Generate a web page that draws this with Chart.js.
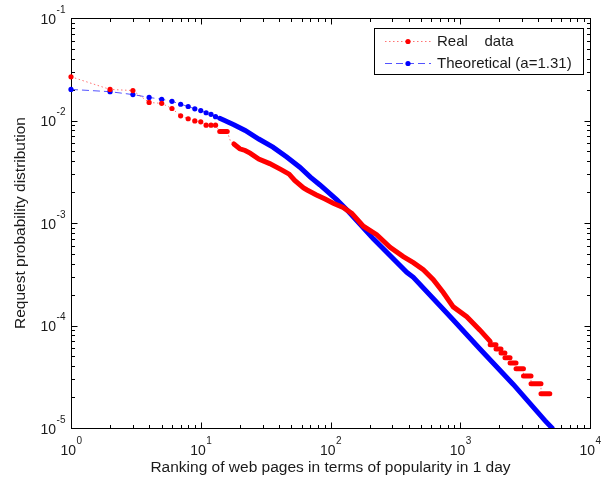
<!DOCTYPE html>
<html>
<head>
<meta charset="utf-8">
<script src="https://cdn.jsdelivr.net/npm/chart.js@4.4.1/dist/chart.umd.min.js"></script>
<style>
  html, body { margin: 0; padding: 0; background: #fff; }
</style>
</head>
<body>
<canvas id="chart" width="608" height="485"></canvas>
<script>
// real request distribution (rank, probability)
const realRanks = [1, 2, 3, 4, 5, 6, 7, 8, 9, 10, 11, 12, 13, 14, 15, 16, 17, 18, 20, 22, 24, 28, 34, 42, 48, 53, 62, 66, 78, 90, 105, 125, 146, 179, 227, 288, 364, 435, 519, 620, 740, 884, 1122, 1419, 1700,
  1701, 1885, 1886, 2060, 2061, 2210, 2211, 2420, 2421, 2690, 2691, 3070, 3071, 3510, 3511, 4190, 4191, 4900];
const realValues = [0.0267, 0.0201, 0.0196, 0.0150, 0.0147, 0.0131, 0.0111, 0.0104, 0.0099, 0.0097, 0.0090, 0.0090, 0.0090, 0.0078, 0.0078, 0.0078, 0.0062, 0.0059, 0.0053, 0.0051, 0.0048, 0.0042, 0.0038, 0.0033, 0.0030, 0.0026, 0.0022, 0.0021, 0.00188, 0.00172, 0.00156, 0.00142, 0.00124, 0.00093, 0.00077, 0.00058, 0.00047, 0.00041, 0.00035, 0.00028, 0.00021, 0.000152, 0.000122, 0.00009, 0.00007,
  0.000065, 0.000065, 0.000059, 0.000059, 0.000054, 0.000054, 0.0000485, 0.0000485, 0.000043, 0.000043, 0.0000378, 0.0000378, 0.0000322, 0.0000322, 0.000027, 0.000027, 0.0000216, 0.0000216];

// theoretical zipf-like curve
const theoRanks = [1, 2, 3, 4, 5, 6, 7, 8, 9, 10, 11, 12, 13, 14, 18, 22, 28, 36, 46, 58, 70, 83, 112, 137, 214, 387, 435, 698, 884, 1419, 2564, 4500, 5100];
const theoValues = [0.0201, 0.0191, 0.0179, 0.0168, 0.0161, 0.0154, 0.0144, 0.0137, 0.0130, 0.0125, 0.0119, 0.0115, 0.0109, 0.0105, 0.0091, 0.0080, 0.0066, 0.0055, 0.0044, 0.0035, 0.0028, 0.00235, 0.00168, 0.0013, 0.00070, 0.00033, 0.000295, 0.000156, 0.000113, 0.000059, 0.0000266, 0.0000118, 0.00001];

const xTickExps = [0, 1, 2, 3, 4];
const yTickExps = [-5, -4, -3, -2, -1];
const seriesNames = ['Real    data', 'Theoretical (a=1.31)'];
const xTitle = 'Ranking of web pages in terms of popularity in 1 day';
const yTitle = 'Request probability distribution';

const FONT = "'Liberation Sans', Arial, sans-serif";

// markers merge into a thick band once ranks get dense
const isThick = c => c.p0.parsed.x >= 14 && !(c.p1.parsed.x - c.p0.parsed.x <= 1 && c.p1.parsed.y !== c.p0.parsed.y);

const styles = [
  { solid: '#ff0000', thin: 'rgba(255,0,0,0.55)', dash: [1.5, 2.5] },
  { solid: '#0000ff', thin: 'rgba(40,40,255,0.8)', dash: [7, 4] }
];

function makeDataset(ranks, values, st, label) {
  return {
    label: label,
    data: ranks.map((r, i) => ({ x: r, y: values[i] })),
    borderColor: st.thin,
    borderWidth: 1,
    borderDash: st.dash,
    pointRadius: c => (c.parsed && c.parsed.x < 14 ? 2.6 : 0),
    pointBackgroundColor: st.solid,
    pointBorderWidth: 0,
    pointHoverRadius: 0,
    clip: { left: 6, top: 6, right: 0, bottom: 0 },
    segment: {
      borderColor: c => (isThick(c) ? st.solid : st.thin),
      borderWidth: c => (isThick(c) ? 5 : 1),
      borderDash: c => (isThick(c) ? [] : st.dash),
      borderCapStyle: c => (isThick(c) ? 'round' : 'butt')
    }
  };
}

function drawPow(ctx, exp, x, y, align) {
  ctx.font = '14px ' + FONT;
  const w10 = ctx.measureText('10').width;
  ctx.font = '10px ' + FONT;
  const we = ctx.measureText(String(exp)).width;
  let x0;
  if (align === 'center') x0 = x - (w10 + we) / 2;
  else x0 = x - (w10 + we);
  ctx.textAlign = 'left';
  ctx.textBaseline = 'alphabetic';
  ctx.font = '14px ' + FONT;
  ctx.fillText('10', x0, y);
  ctx.font = '10px ' + FONT;
  ctx.fillText(String(exp), x0 + w10 + 0.5, y - 11);
}

const matlabAxes = {
  id: 'matlabAxes',
  beforeDatasetsDraw(chart) {
    const { ctx, chartArea: a, scales: { x, y } } = chart;
    const L = Math.round(a.left) + 0.5, R = Math.round(a.right) + 0.5;
    const T = Math.round(a.top) + 0.5, B = Math.round(a.bottom) + 0.5;
    ctx.save();
    ctx.strokeStyle = '#000';
    ctx.lineWidth = 1;
    ctx.beginPath();
    xTickExps.forEach((e, i) => {
      const marks = [[Math.pow(10, e), 6]];
      if (i < xTickExps.length - 1) for (let m = 2; m <= 9; m++) marks.push([m * Math.pow(10, e), 3.5]);
      marks.forEach(([v, len]) => {
        const px = Math.round(x.getPixelForValue(v)) + 0.5;
        ctx.moveTo(px, B); ctx.lineTo(px, B - len);
        ctx.moveTo(px, T); ctx.lineTo(px, T + len);
      });
    });
    yTickExps.forEach((e, i) => {
      const marks = [[Math.pow(10, e), 6]];
      if (i < yTickExps.length - 1) for (let m = 2; m <= 9; m++) marks.push([m * Math.pow(10, e), 3.5]);
      marks.forEach(([v, len]) => {
        const py = Math.round(y.getPixelForValue(v)) + 0.5;
        ctx.moveTo(L, py); ctx.lineTo(L + len, py);
        ctx.moveTo(R, py); ctx.lineTo(R - len, py);
      });
    });
    ctx.stroke();
    ctx.strokeRect(L, T, R - L, B - T);
    ctx.restore();
  },
  afterDraw(chart) {
    const { ctx, chartArea: a, scales: { x, y } } = chart;
    ctx.save();
    ctx.fillStyle = '#1a1a1a';
    xTickExps.forEach(e => drawPow(ctx, e, x.getPixelForValue(Math.pow(10, e)), a.bottom + 27, 'center'));
    yTickExps.forEach(e => drawPow(ctx, e, a.left - 6, y.getPixelForValue(Math.pow(10, e)) + 5.5, 'right'));

    ctx.font = '15.5px ' + FONT;
    ctx.textAlign = 'center';
    ctx.textBaseline = 'middle';
    ctx.fillText(xTitle, (a.left + a.right) / 2, 468);
    ctx.translate(21, (a.top + a.bottom) / 2);
    ctx.rotate(-Math.PI / 2);
    ctx.fillText(yTitle, 0, 0);
    ctx.setTransform(1, 0, 0, 1, 0, 0);

    // legend box
    ctx.fillStyle = '#fff';
    ctx.fillRect(374.5, 28.5, 209, 46);
    ctx.strokeStyle = '#000';
    ctx.lineWidth = 1;
    ctx.strokeRect(374.5, 28.5, 209, 46);
    seriesNames.forEach((name, i) => {
      const st = styles[i];
      const ly = i === 0 ? 41 : 63;
      ctx.beginPath();
      ctx.strokeStyle = st.thin;
      ctx.setLineDash(st.dash);
      ctx.moveTo(385, ly + 0.5);
      ctx.lineTo(431, ly + 0.5);
      ctx.stroke();
      ctx.setLineDash([]);
      ctx.beginPath();
      ctx.fillStyle = st.solid;
      ctx.arc(408, ly + 0.5, 2.6, 0, Math.PI * 2);
      ctx.fill();
      ctx.fillStyle = '#1a1a1a';
      ctx.font = '15px ' + FONT;
      ctx.textAlign = 'left';
      ctx.textBaseline = 'middle';
      ctx.fillText(name, 437, ly + 1);
    });
    ctx.restore();
  }
};

new Chart(document.getElementById('chart').getContext('2d'), {
  type: 'line',
  data: {
    datasets: [
      makeDataset(realRanks, realValues, styles[0], seriesNames[0]),
      makeDataset(theoRanks, theoValues, styles[1], seriesNames[1])
    ]
  },
  options: {
    responsive: false,
    animation: false,
    devicePixelRatio: 1,
    layout: { padding: { left: 71, right: 18, top: 18, bottom: 57 } },
    scales: {
      x: { type: 'logarithmic', min: 1, max: 10000, display: false },
      y: { type: 'logarithmic', min: 1e-5, max: 1e-1, display: false }
    },
    plugins: {
      legend: { display: false },
      tooltip: { enabled: false }
    }
  },
  plugins: [matlabAxes]
});
</script>
</body>
</html>
